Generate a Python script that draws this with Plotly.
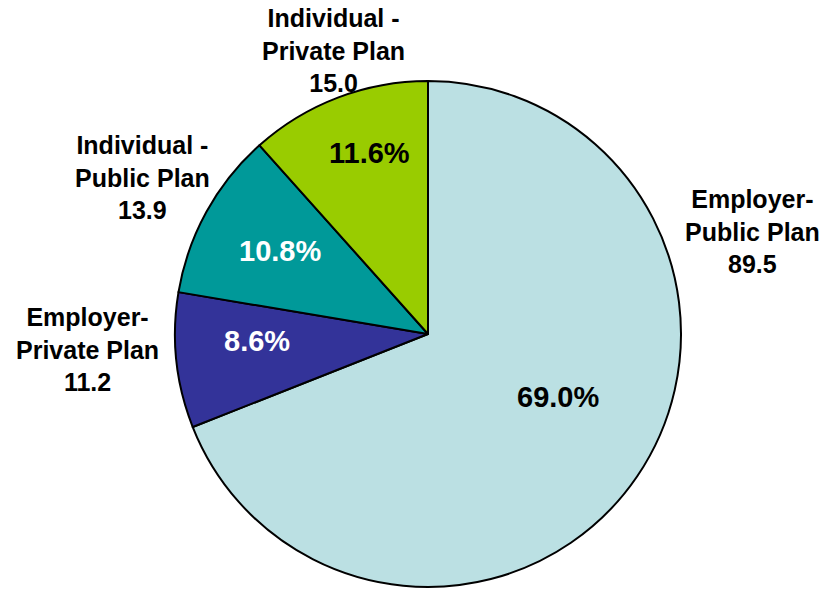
import plotly.graph_objects as go

# Health coverage by source (millions), clockwise from 12 o'clock
categories = ["Employer-<br>Public Plan", "Employer-<br>Private Plan",
              "Individual -<br>Public Plan", "Individual -<br>Private Plan"]
values = [89.46, 11.2, 13.94, 15.04]
colors = ["#BBE0E3", "#333399", "#009999", "#99CC00"]
pct_colors = ["black", "white", "white", "black"]

# Text anchor points (pixels in the 826x589 canvas)
label_pos = [(752, 232), (87, 350), (142, 178), (333, 50)]
pct_pos = [(558, 397), (257, 341), (280, 251), (369, 153)]

W, H = 826, 589
cx, cy, r = 428, 334, 253

total = sum(values)
font_family = "Liberation Sans, Arial, sans-serif"

fig = go.Figure(go.Pie(
    labels=categories,
    values=values,
    sort=False,
    direction="clockwise",
    rotation=0,
    marker=dict(colors=colors, line=dict(color="black", width=2)),
    textinfo="none",
    hoverinfo="label+value+percent",
    showlegend=False,
    domain=dict(x=[(cx - r) / W, (cx + r) / W],
                y=[1 - (cy + r) / H, 1 - (cy - r) / H]),
))

annotations = []
for cat, val, (px, py) in zip(categories, values, label_pos):
    annotations.append(dict(
        x=px / W, y=1 - py / H, xref="paper", yref="paper",
        xanchor="center", yanchor="middle",
        text=f"{cat}<br>{val:.1f}", showarrow=False, align="center",
        font=dict(family=font_family, size=25, color="black", weight="bold"),
    ))
for val, col, (px, py) in zip(values, pct_colors, pct_pos):
    annotations.append(dict(
        x=px / W, y=1 - py / H, xref="paper", yref="paper",
        xanchor="center", yanchor="middle",
        text=f"{100 * val / total:.1f}%", showarrow=False,
        font=dict(family=font_family, size=29, color=col, weight="bold"),
    ))

fig.update_layout(
    width=W, height=H,
    margin=dict(l=0, r=0, t=0, b=0),
    paper_bgcolor="white", plot_bgcolor="white",
    annotations=annotations,
)

fig.write_html("out.html")
